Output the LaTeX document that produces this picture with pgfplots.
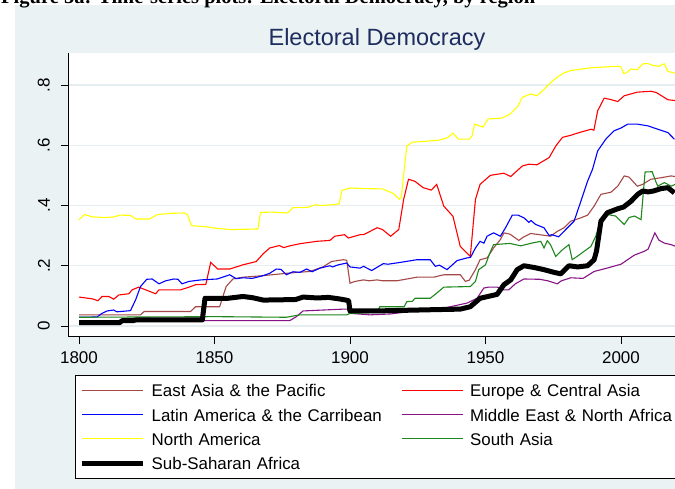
\documentclass[border=0pt]{standalone}
\usepackage{pgfplots}
\pgfplotsset{compat=1.18}
\usepackage{fontspec}
\setmainfont{Liberation Sans}
\newfontfamily\capfont{Liberation Serif}
\definecolor{bgcol}{RGB}{234,242,243}
\definecolor{gridcol}{RGB}{229,237,240}
\definecolor{titlecol}{RGB}{30,45,95}
\definecolor{eapcol}{RGB}{165,72,72}
\definecolor{ecacol}{RGB}{255,0,0}
\definecolor{laccol}{RGB}{0,0,255}
\definecolor{menacol}{RGB}{135,20,135}
\definecolor{nacol}{RGB}{255,255,0}
\definecolor{sacol}{RGB}{30,135,30}
\begin{document}
\begin{tikzpicture}
\useasboundingbox (0pt,0pt) rectangle (675pt,489pt);
\begin{scope}
\clip (0pt,0pt) rectangle (675pt,489pt);
\fill[bgcol] (15pt,0pt) rectangle (675pt,484pt);
\node[anchor=base west, inner sep=0pt, font=\capfont\bfseries\fontsize{20.5}{22}\selectfont] at (1pt,485pt) {Figure 5a: Time-series plots: Electoral Democracy, by region};
\node[anchor=base, inner sep=0pt, text=titlecol, font=\fontsize{23.5}{26}\selectfont] at (377pt,443pt) {Electoral Democracy};
\begin{axis}[
  at={(68.3pt,152.3pt)}, anchor=south west, scale only axis,
  width=615pt, height=283.7pt,
  xmin=1796.05, xmax=2023, ymin=-0.0355, ymax=0.906,
  axis lines=left, axis line style={-, black, line width=0.8pt},
  tick align=outside, major tick length=7pt, tick style={black, line width=0.8pt},
  xtick={1800,1850,1900,1950,2000}, xticklabels={1800,1850,1900,1950,2000},
  ytick={0,0.2,0.4,0.6,0.8}, yticklabels={0,.2,.4,.6,.8},
  ticklabel style={font=\fontsize{17}{19}\selectfont},
  xticklabel style={yshift=-4pt},
  yticklabel style={rotate=90, anchor=south},
  yticklabel shift=8pt,
  ymajorgrids, grid style={gridcol, line width=1.2pt},
  axis background/.style={fill=white},
  legend columns=2,
  legend cell align=left,
  legend style={at={(axis description cs:0.01089,-0.135)}, anchor=north west,
    draw=black, line width=0.8pt, fill=white, inner xsep=3.7pt, inner ysep=7.6pt,
    row sep=8.6pt, font=\fontsize{16.9}{18}\selectfont,
    nodes={inner sep=0pt, text height=14pt, text depth=1.5pt, text width=249.7pt},
    /tikz/every odd column/.append style={column sep=6.6pt}},
  legend image code/.code={\draw[#1] (0pt,0pt) -- (61pt,0pt);},
]
\addplot[eapcol, line width=1.1pt] coordinates {
(1800,.037)(1822.7,.037)(1824,.048)(1841.2,.048)(1843,.064)(1851.9,.064)(1854.3,.131)(1856.8,.156)(1860.5,.162)(1867.9,.167)(1877.8,.176)(1885.2,.181)(1890,.196)(1893.2,.214)(1897.5,.22)(1898.8,.218)(1900,.142)(1901.9,.148)(1905,.153)(1907,.15)(1910,.153)(1912,.15)(1917.3,.15)(1921,.156)(1924.7,.162)(1930.9,.162)(1934.6,.17)(1940.7,.17)(1942.6,.148)(1944,.152)(1946.3,.187)(1948,.22)(1950.6,.226)(1953,.259)(1955.5,.287)(1956.8,.309)(1959,.305)(1962.3,.284)(1964,.295)(1966.7,.307)(1970,.303)(1974,.298)(1976.5,.314)(1979,.326)(1981.5,.348)(1985.2,.359)(1987.7,.368)(1990.1,.398)(1992.6,.437)(1996.3,.444)(1998.8,.464)(2001.2,.498)(2003,.494)(2006,.464)(2008,.47)(2011,.487)(2014.8,.492)(2018.5,.498)(2020,.496)};
\addlegendentry{East Asia \& the Pacific}
\addplot[ecacol, line width=1.1pt] coordinates {
(1800,.096)(1805,.09)(1807,.084)(1808.5,.098)(1811,.098)(1812.8,.089)(1814.7,.103)(1818.4,.107)(1819.6,.12)(1822,.129)(1824.6,.12)(1828.3,.107)(1829.5,.12)(1837.5,.12)(1840.6,.129)(1843,.137)(1846.8,.138)(1848.6,.211)(1851.2,.189)(1855.6,.189)(1860.5,.203)(1865.4,.214)(1868,.24)(1870.4,.259)(1874,.267)(1875.5,.26)(1877.8,.266)(1881.5,.273)(1887.7,.281)(1892.6,.284)(1894.4,.298)(1898,.303)(1899.4,.292)(1903.7,.303)(1905,.303)(1910,.326)(1912,.32)(1915,.298)(1918,.32)(1919.8,.42)(1921.6,.487)(1924,.48)(1927,.459)(1930,.451)(1932,.47)(1934.6,.398)(1938,.364)(1940.7,.264)(1944.4,.231)(1946.3,.42)(1948,.47)(1951.8,.5)(1956.8,.507)(1959.3,.496)(1963.6,.531)(1966,.537)(1969,.535)(1973.5,.559)(1976,.598)(1978.4,.626)(1981.5,.633)(1984.6,.642)(1989,.653)(1990,.65)(1991.4,.714)(1993.8,.756)(1996,.752)(1998.8,.745)(2001.2,.764)(2006,.776)(2011,.779)(2013,.775)(2017.3,.751)(2020,.748)};
\addlegendentry{Europe \& Central Asia}
\addplot[laccol, line width=1.1pt] coordinates {
(1800,.029)(1806.7,.03)(1808.5,.042)(1810.4,.05)(1812.8,.053)(1814,.047)(1819,.051)(1820.9,.087)(1822.7,.131)(1825,.155)(1827,.156)(1829.5,.14)(1832,.15)(1835,.156)(1836.5,.155)(1838,.14)(1840.6,.148)(1845,.153)(1851,.156)(1855.6,.17)(1858,.157)(1860.5,.16)(1864,.158)(1867.9,.167)(1870.4,.175)(1872.8,.189)(1874.5,.188)(1876.5,.17)(1879,.18)(1881.5,.178)(1884,.189)(1886,.18)(1888.9,.192)(1892.6,.2)(1893.5,.196)(1895.7,.203)(1898.8,.209)(1900,.196)(1903.7,.192)(1905,.198)(1908,.184)(1912.3,.207)(1914,.205)(1918.5,.211)(1924.7,.22)(1929.6,.22)(1931.5,.198)(1933,.202)(1935.8,.187)(1939.5,.217)(1943.2,.226)(1944.5,.228)(1946.3,.259)(1948,.281)(1949.4,.275)(1950.6,.298)(1953,.309)(1955.5,.298)(1957.4,.326)(1959.9,.368)(1962,.368)(1964.2,.359)(1966,.344)(1966.8,.35)(1968.5,.337)(1971.6,.326)(1973.5,.3)(1974.5,.303)(1977,.296)(1979.6,.32)(1982.7,.348)(1985.2,.414)(1987.7,.481)(1989.5,.52)(1991.4,.581)(1994.4,.62)(1997.5,.648)(2000,.657)(2002.5,.67)(2006,.67)(2010,.664)(2013.6,.653)(2017.3,.642)(2019.7,.62)};
\addlegendentry{Latin America \& the Carribean}
\addplot[menacol, line width=1.1pt] coordinates {
(1800,.018)(1877.8,.018)(1880.2,.031)(1882.7,.05)(1897.5,.056)(1899,.056)(1900,.042)(1907.4,.037)(1915,.04)(1924.7,.051)(1934.6,.059)(1937,.064)(1943.2,.076)(1946.9,.092)(1949.4,.126)(1951.2,.129)(1954.3,.129)(1956.8,.12)(1958.6,.12)(1961,.14)(1964.2,.156)(1970,.155)(1973,.15)(1976.5,.14)(1978,.15)(1981.5,.16)(1986,.158)(1990.1,.181)(1994,.19)(2000,.205)(2004.9,.235)(2008.6,.248)(2010,.255)(2012.5,.309)(2014,.285)(2016,.275)(2018.5,.27)(2020,.265)};
\addlegendentry{Middle East \& North Africa}
\addplot[nacol, line width=1.1pt] coordinates {
(1800,.352)(1802,.37)(1805,.362)(1810,.36)(1813,.362)(1815,.368)(1819,.367)(1821,.355)(1826,.355)(1829,.37)(1834,.374)(1839,.375)(1840,.37)(1841.5,.333)(1846,.33)(1851,.324)(1856,.32)(1866,.322)(1867,.377)(1871,.378)(1877,.375)(1879,.393)(1883,.393)(1885,.395)(1887,.402)(1890,.4)(1894,.403)(1896,.405)(1897,.45)(1900,.458)(1905,.456)(1912,.455)(1916,.44)(1918.3,.42)(1919,.43)(1920,.52)(1921,.598)(1923,.61)(1928,.613)(1933,.617)(1936,.625)(1938,.64)(1940,.62)(1944,.62)(1945,.63)(1946,.67)(1949,.66)(1951,.687)(1956,.69)(1959,.703)(1962,.73)(1963.6,.759)(1966.7,.77)(1969,.764)(1971,.78)(1973.5,.803)(1976.5,.826)(1979,.84)(1981.5,.848)(1989,.857)(1995,.86)(1998.8,.862)(2000,.86)(2001,.838)(2002,.84)(2003.7,.853)(2006,.85)(2008,.87)(2010,.871)(2012,.864)(2014,.862)(2016,.87)(2017.3,.845)(2020,.839)};
\addlegendentry{North America}
\addplot[sacol, line width=1.1pt] coordinates {
(1800,.029)(1851,.031)(1876.5,.029)(1881.5,.037)(1898.8,.037)(1900,.042)(1910,.045)(1911,.064)(1920,.064)(1921,.081)(1923,.082)(1924,.092)(1929.6,.092)(1932,.109)(1934.6,.129)(1944.4,.131)(1946.3,.148)(1947.5,.187)(1950,.203)(1951.6,.242)(1953,.27)(1956,.272)(1959,.274)(1963,.266)(1967,.275)(1970.4,.281)(1971.6,.259)(1972.8,.283)(1974,.27)(1975.9,.231)(1978,.25)(1980.8,.27)(1982,.22)(1984,.232)(1986.4,.248)(1988.9,.264)(1990.7,.298)(1992.6,.353)(1995,.37)(1998,.365)(2001.2,.337)(2003,.36)(2005,.365)(2007.4,.353)(2008.9,.511)(2011.5,.512)(2013,.476)(2013.6,.464)(2016,.476)(2018.5,.464)(2020,.47)};
\addlegendentry{South Asia}
\addplot[black, line width=5pt, line join=round] coordinates {
(1800,.011)(1815,.011)(1816,.018)(1820,.018)(1821,.02)(1845.5,.02)(1846.5,.092)(1855,.092)(1860.5,.098)(1864,.094)(1868,.086)(1875,.087)(1880,.088)(1882.7,.096)(1888,.093)(1892,.095)(1896,.09)(1898.5,.086)(1899.5,.084)(1900,.05)(1910,.05)(1920,.052)(1930,.054)(1940.7,.056)(1944.4,.064)(1948,.092)(1954.3,.105)(1956.8,.137)(1959.3,.153)(1961.7,.187)(1964.2,.2)(1968,.194)(1971.6,.187)(1975.3,.178)(1977.8,.173)(1980.8,.2)(1984,.196)(1987.7,.2)(1990.1,.22)(1991,.25)(1992.6,.348)(1995,.376)(1998.8,.389)(2001,.395)(2003.7,.414)(2006.2,.437)(2008,.448)(2010,.445)(2012,.448)(2014.8,.456)(2017.3,.459)(2019.7,.442)};
\addlegendentry{Sub-Saharan Africa}
\end{axis}
\end{scope}
\end{tikzpicture}
\end{document}
